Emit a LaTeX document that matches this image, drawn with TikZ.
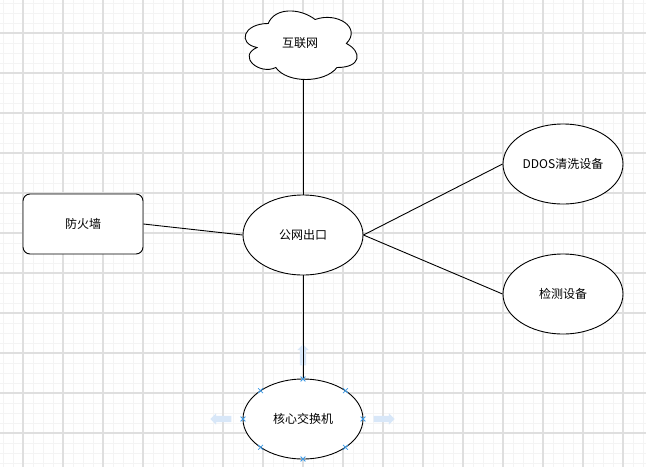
\documentclass[tikz,border=0pt]{standalone}
\usepackage{fontspec}
\setmainfont{Noto Sans CJK SC}
\usetikzlibrary{shapes,shapes.arrows,shapes.misc,positioning,calc}
\definecolor{gridmajor}{HTML}{DFDFDF}
\definecolor{gridminor}{HTML}{F4F4F4}
\definecolor{selblue}{HTML}{3E9BE6}
\definecolor{hintblue}{HTML}{D8E7F8}

\begin{document}
\begin{tikzpicture}[x = 1pt, y = -1pt,
  box/.style = {draw, fill = white, line width = .9pt, rounded corners = 7pt, minimum width = 120pt, minimum height = 60pt, font = \fontsize{12}{14}\selectfont},
  oval/.style = {draw, fill = white, ellipse, line width = .9pt, minimum width = 120pt, minimum height = 80pt, inner sep = 0pt, font = \fontsize{12}{14}\selectfont},
  link/.style = {draw, line width = .9pt},
  selmark/.style = {draw = selblue, cross out, line width = .8pt, minimum size = 4pt, inner sep = 0pt},
  hint/.style = {single arrow, fill = hintblue, inner sep = 3pt, minimum width = 11pt, minimum height = 21pt, single arrow head extend = 2.5pt}]
\useasboundingbox (0,0) rectangle (646,467);
\fill[white] (0,0) rectangle (646,467);
% grid
\foreach \gx in {3,13,...,643} \draw[gridminor, line width = .8pt] (\gx,0) -- (\gx,467);
\foreach \gy in {3,13,...,463} \draw[gridminor, line width = .8pt] (0,\gy) -- (646,\gy);
\foreach \gx in {23,63,...,623} \draw[gridmajor, line width = 1.2pt] (\gx,0) -- (\gx,467);
\foreach \gy in {33,73,...,433} \draw[gridmajor, line width = 1.2pt] (0,\gy) -- (646,\gy);

% cloud
\draw[fill = white, line width = .9pt] (268.25,23.5)
  .. controls (243.25,23.5) and (237,43.5) .. (257,47.5)
  .. controls (237,56.3) and (259.5,75.5) .. (275.75,67.5)
  .. controls (287,83.5) and (324.5,83.5) .. (337,67.5)
  .. controls (362,67.5) and (362,51.5) .. (346.375,43.5)
  .. controls (362,27.5) and (337,11.5) .. (315.125,19.5)
  .. controls (299.5,7.5) and (274.5,7.5) .. (268.25,23.5) -- cycle;
\node[font = \fontsize{12}{14}\selectfont] (inet) at (300,43.5) {互联网};
\coordinate (inetb) at (303,79.5);

% selection hints (under the links)
\node[hint, rotate = 90] (hup) at (303,356.5) {};
\node[hint, rotate = 180] (hleft) at (222.5,419) {};
\node[hint] (hright) at (382.5,419) {};

\node[oval] (gw) at (303,235) {公网出口};
\node[box] (fw) at (83,224) {防火墙};
\node[oval] (ddos) at (563,164) {DDOS清洗设备};
\node[oval] (det) at (563,294) {检测设备};
\node[oval] (core) at (303,419) {核心交换机};

\draw[link] (inetb) -- (gw.north);
\draw[link] (fw.east) -- (gw.west);
\draw[link] (gw.east) -- (ddos.west);
\draw[link] (gw.east) -- (det.west);
\draw[link] (gw.south) -- (core.north);

\foreach \a in {0,45,...,315}
  \node[selmark] at ($(core.center)+({60*cos(\a)},{-40*sin(\a)})$) {};
\end{tikzpicture}
\end{document}
